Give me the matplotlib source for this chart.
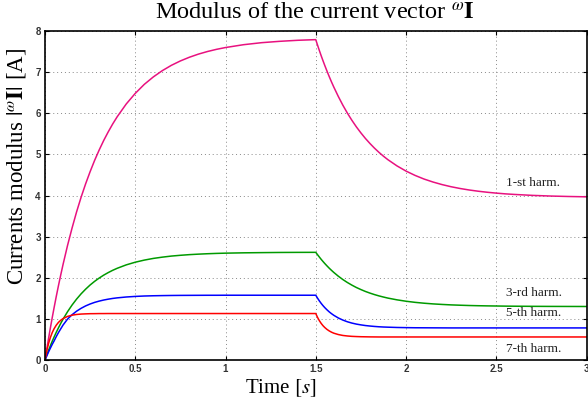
import matplotlib
matplotlib.use("Agg")
import matplotlib.pyplot as plt

# ---- data ----
t_rise = [0.0, 0.01, 0.02, 0.03, 0.04, 0.05, 0.0625, 0.075, 0.0875, 0.1, 0.125, 0.15, 0.175,
          0.2, 0.225, 0.25, 0.275, 0.3, 0.325, 0.35, 0.375, 0.4, 0.45, 0.5, 0.55, 0.6, 0.65,
          0.7, 0.75, 0.8, 0.85, 0.9, 0.95, 1.0, 1.1, 1.2, 1.3, 1.4, 1.5]
t_fall = [1.51, 1.52, 1.53, 1.54, 1.55, 1.5625, 1.575, 1.5875, 1.6, 1.625, 1.65, 1.675,
          1.7, 1.725, 1.75, 1.775, 1.8, 1.825, 1.85, 1.875, 1.9, 1.95, 2.0, 2.05, 2.1, 2.15,
          2.2, 2.25, 2.3, 2.35, 2.4, 2.45, 2.5, 2.55, 2.6, 2.7, 2.8, 2.9, 3.0]

harm1_rise = [0.0, 0.271, 0.532, 0.785, 1.029, 1.264, 1.547, 1.817, 2.075, 2.323, 2.788, 3.21,
              3.602, 3.958, 4.283, 4.58, 4.855, 5.105, 5.336, 5.545, 5.739, 5.915, 6.225, 6.483,
              6.702, 6.883, 7.036, 7.165, 7.272, 7.362, 7.438, 7.501, 7.554, 7.598, 7.667,
              7.716, 7.749, 7.774, 7.79]
harm1_fall = [7.656, 7.525, 7.399, 7.279, 7.162, 7.022, 6.888, 6.759, 6.637, 6.408, 6.197,
              6.005, 5.83, 5.669, 5.523, 5.388, 5.266, 5.153, 5.05, 4.956, 4.87, 4.72, 4.594,
              4.489, 4.40, 4.327, 4.265, 4.213, 4.17, 4.134, 4.104, 4.079, 4.058, 4.04, 4.026,
              4.003, 3.987, 3.976, 3.968]

harm3_rise = [0.0, 0.122, 0.238, 0.349, 0.455, 0.555, 0.674, 0.786, 0.893, 0.993, 1.175, 1.337,
              1.481, 1.609, 1.722, 1.824, 1.913, 1.992, 2.063, 2.125, 2.181, 2.23, 2.313, 2.378,
              2.429, 2.47, 2.501, 2.527, 2.546, 2.562, 2.574, 2.584, 2.592, 2.598, 2.606,
              2.611, 2.615, 2.617, 2.618]
harm3_fall = [2.56, 2.503, 2.448, 2.396, 2.346, 2.287, 2.231, 2.179, 2.129, 2.038, 1.957,
              1.885, 1.821, 1.763, 1.713, 1.667, 1.627, 1.591, 1.559, 1.531, 1.505, 1.463,
              1.429, 1.402, 1.381, 1.364, 1.351, 1.340, 1.332, 1.325, 1.320, 1.316, 1.313,
              1.310, 1.308, 1.305, 1.303, 1.302, 1.301]

harm5_rise = [0.0, 0.10, 0.20, 0.29, 0.38, 0.46, 0.57, 0.67, 0.76, 0.85, 0.996, 1.101, 1.187,
              1.257, 1.315, 1.362, 1.401, 1.432, 1.458, 1.479, 1.497, 1.511, 1.532, 1.546,
              1.556, 1.562, 1.566, 1.569, 1.571, 1.572, 1.573, 1.574, 1.574, 1.575, 1.575,
              1.575, 1.575, 1.575, 1.575]
harm5_fall = [1.503, 1.437, 1.377, 1.323, 1.274, 1.219, 1.169, 1.126, 1.087, 1.022, 0.971,
              0.930, 0.898, 0.873, 0.854, 0.838, 0.826, 0.816, 0.808, 0.802, 0.798, 0.791,
              0.787, 0.784, 0.783, 0.782, 0.781, 0.78, 0.78, 0.78, 0.78, 0.78, 0.78, 0.78,
              0.78, 0.78, 0.78, 0.78, 0.78]

harm7_rise = [0.0, 0.225, 0.406, 0.550, 0.666, 0.758, 0.848, 0.917, 0.968, 1.007, 1.060, 1.090,
              1.107, 1.117, 1.122, 1.126, 1.127, 1.129, 1.129, 1.13, 1.13, 1.13, 1.13, 1.13,
              1.13, 1.13, 1.13, 1.13, 1.13, 1.13, 1.13, 1.13, 1.13, 1.13, 1.13, 1.13, 1.13,
              1.13, 1.13]
harm7_fall = [1.035, 0.956, 0.890, 0.835, 0.790, 0.743, 0.706, 0.676, 0.652, 0.619, 0.597,
              0.584, 0.575, 0.57, 0.566, 0.564, 0.562, 0.561, 0.56, 0.56, 0.56, 0.56, 0.56,
              0.56, 0.56, 0.56, 0.56, 0.56, 0.56, 0.56, 0.56, 0.56, 0.56, 0.56, 0.56, 0.56,
              0.56, 0.56, 0.56]

labels = ["1-st harm.", "3-rd harm.", "5-th harm.", "7-th harm."]
label_x = [2.555, 2.555, 2.555, 2.555]
label_y = [4.31, 1.64, 1.14, 0.27]

x_ticks = [0, 0.5, 1, 1.5, 2, 2.5, 3]
x_ticklabels = ["0", "0.5", "1", "1.5", "2", "2.5", "3"]
y_ticks = [0, 1, 2, 3, 4, 5, 6, 7, 8]

colors = ["#e8117f", "#009a00", "#0000ff", "#ff0000"]

plt.rcParams["mathtext.fontset"] = "stix"
serif = ["Liberation Serif", "DejaVu Serif"]

time_s = t_rise + t_fall
series_all = [harm1_rise + harm1_fall, harm3_rise + harm3_fall,
              harm5_rise + harm5_fall, harm7_rise + harm7_fall]

fig = plt.figure(figsize=(5.88, 4.03), dpi=100)
ax = fig.add_axes([45 / 588, 1 - 360 / 403, 541.5 / 588, 329 / 403])

for series, c in zip(series_all, colors):
    ax.plot(time_s, series, color=c, lw=1.1, solid_joinstyle="round")

for txt, x, y in zip(labels, label_x, label_y):
    ax.text(x, y, txt, family=serif, fontsize=9.5, va="center", ha="left", color="#222222")

ax.set_xlim(0, 3)
ax.set_ylim(0, 8)
ax.set_xticks(x_ticks)
ax.set_xticklabels(x_ticklabels)
ax.set_yticks(y_ticks)
ax.grid(True, color="#888888", linestyle=(0, (1, 3)), linewidth=0.7)
ax.tick_params(direction="in", length=3, width=0.8, top=True, right=True,
               labelsize=7, pad=3)
for lab in ax.get_xticklabels() + ax.get_yticklabels():
    lab.set_family(["Liberation Sans", "DejaVu Sans"])
    lab.set_fontweight("bold")
    lab.set_color("#333333")
for sp in ax.spines.values():
    sp.set_linewidth(1.2)

fig.text(315 / 588, 1 - 14 / 403, r"Modulus of the current vector $^{\omega}\mathbf{I}$",
         family=serif, fontsize=17.5, ha="center", va="center")
fig.text(281 / 588, 1 - 388 / 403, r"Time $[s]$", family=serif, fontsize=15,
         ha="center", va="center")
fig.text(17 / 588, 1 - 166 / 403, r"Currents modulus $|^{\omega}\mathbf{I}|$ [A]",
         family=serif, fontsize=16.5, ha="center", va="center", rotation=90)

fig.savefig("out.png", dpi=100)
